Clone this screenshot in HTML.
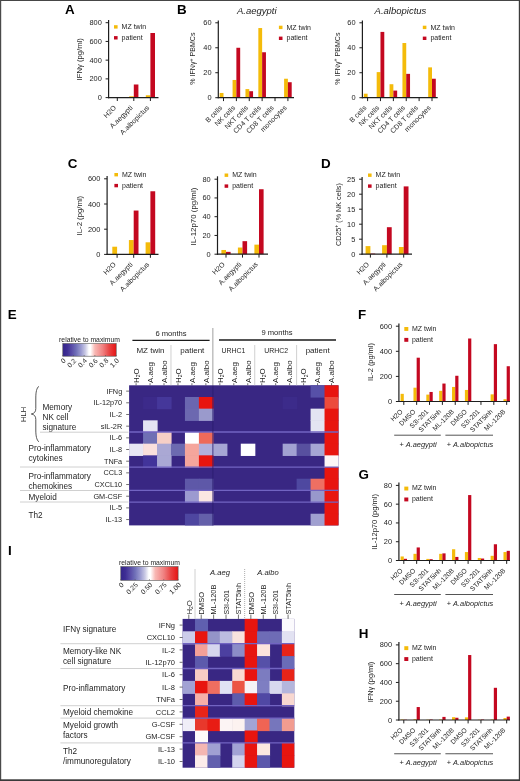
<!DOCTYPE html>
<html><head><meta charset="utf-8"><title>Figure</title>
<style>
html,body{margin:0;padding:0;background:#fff;}
body{width:520px;height:781px;overflow:hidden;}
svg{display:block;font-family:"Liberation Sans", sans-serif;filter:blur(0.35px);}
</style></head>
<body>
<svg width="520" height="781" viewBox="0 0 520 781" fill="#1e1e1e">
<defs><linearGradient id="cb" x1="0" x2="1" y1="0" y2="0"><stop offset="0" stop-color="#34248c"/><stop offset="0.08" stop-color="#3e2e94"/><stop offset="0.17" stop-color="#5a4ea8"/><stop offset="0.25" stop-color="#7070b8"/><stop offset="0.34" stop-color="#9a9ad0"/><stop offset="0.42" stop-color="#c8c8e4"/><stop offset="0.49" stop-color="#ffffff"/><stop offset="0.52" stop-color="#ffffff"/><stop offset="0.6" stop-color="#f8b8b4"/><stop offset="0.75" stop-color="#f08080"/><stop offset="0.87" stop-color="#e84444"/><stop offset="1.0" stop-color="#e81414"/></linearGradient></defs>
<rect x="0" y="0" width="520" height="781" fill="#fff"/>
<text x="65" y="13.9" font-size="13.4" fill="#000" font-weight="bold">A</text>
<rect x="112.7" y="97.04" width="4.6" height="0.56" fill="#f4bb0a"/>
<rect x="117.3" y="97.23" width="4.6" height="0.37" fill="#c40820"/>
<rect x="129.2" y="96.29" width="4.6" height="1.31" fill="#f4bb0a"/>
<rect x="133.8" y="84.49" width="4.6" height="13.11" fill="#c40820"/>
<rect x="145.8" y="95.26" width="4.6" height="2.34" fill="#f4bb0a"/>
<rect x="150.4" y="33" width="4.6" height="64.6" fill="#c40820"/>
<line x1="108.6" y1="20" x2="108.6" y2="98.2" stroke="#1e1e1e" stroke-width="1.2"/>
<line x1="108" y1="97.6" x2="158.5" y2="97.6" stroke="#1e1e1e" stroke-width="1.2"/>
<line x1="105.6" y1="97.6" x2="108.6" y2="97.6" stroke="#1e1e1e" stroke-width="1"/>
<text x="101.8" y="100.1" font-size="7.4" text-anchor="end">0</text>
<line x1="105.6" y1="78.88" x2="108.6" y2="78.88" stroke="#1e1e1e" stroke-width="1"/>
<text x="101.8" y="81.38" font-size="7.4" text-anchor="end">200</text>
<line x1="105.6" y1="60.15" x2="108.6" y2="60.15" stroke="#1e1e1e" stroke-width="1"/>
<text x="101.8" y="62.65" font-size="7.4" text-anchor="end">400</text>
<line x1="105.6" y1="41.43" x2="108.6" y2="41.43" stroke="#1e1e1e" stroke-width="1"/>
<text x="101.8" y="43.93" font-size="7.4" text-anchor="end">600</text>
<line x1="105.6" y1="22.7" x2="108.6" y2="22.7" stroke="#1e1e1e" stroke-width="1"/>
<text x="101.8" y="25.2" font-size="7.4" text-anchor="end">800</text>
<line x1="117.3" y1="97.6" x2="117.3" y2="101" stroke="#1e1e1e" stroke-width="1"/>
<line x1="133.8" y1="97.6" x2="133.8" y2="101" stroke="#1e1e1e" stroke-width="1"/>
<line x1="150.4" y1="97.6" x2="150.4" y2="101" stroke="#1e1e1e" stroke-width="1"/>
<text x="116.6" y="108.2" font-size="7" text-anchor="end" transform="rotate(-45 116.6 108.2)">H2O</text>
<text x="133.1" y="108.2" font-size="7" text-anchor="end" transform="rotate(-45 133.1 108.2)">A.aegypti</text>
<text x="149.7" y="108.2" font-size="7" text-anchor="end" transform="rotate(-45 149.7 108.2)">A.albopictus</text>
<rect x="114" y="25.2" width="3.6" height="3.4" fill="#f4bb0a"/>
<rect x="114" y="36.1" width="3.6" height="3.4" fill="#c40820"/>
<text x="121.6" y="29" font-size="7">MZ twin</text>
<text x="121.6" y="39.8" font-size="7">patient</text>
<text x="82.5" y="59.3" font-size="7.7" text-anchor="middle" transform="rotate(-90 82.5 59.3)">IFN&#947; (pg/ml)</text>
<text x="176.9" y="14" font-size="13.4" fill="#000" font-weight="bold">B</text>
<text x="256.8" y="14.3" font-size="9.5" text-anchor="middle" fill="#222" font-style="italic">A.aegypti</text>
<text x="400.5" y="14.3" font-size="9.5" text-anchor="middle" fill="#222" font-style="italic">A.albopictus</text>
<rect x="219.7" y="92.96" width="3.8" height="4.74" fill="#f4bb0a"/>
<rect x="232.58" y="79.97" width="3.8" height="17.73" fill="#f4bb0a"/>
<rect x="236.38" y="47.77" width="3.8" height="49.93" fill="#c40820"/>
<rect x="245.46" y="89.09" width="3.8" height="8.61" fill="#f4bb0a"/>
<rect x="249.26" y="91.21" width="3.8" height="6.49" fill="#c40820"/>
<rect x="258.34" y="28.04" width="3.8" height="69.66" fill="#f4bb0a"/>
<rect x="262.14" y="52.26" width="3.8" height="45.44" fill="#c40820"/>
<rect x="284.1" y="78.73" width="3.8" height="18.97" fill="#f4bb0a"/>
<rect x="287.9" y="82.22" width="3.8" height="15.48" fill="#c40820"/>
<line x1="218.3" y1="20.4" x2="218.3" y2="98.3" stroke="#1e1e1e" stroke-width="1.2"/>
<line x1="217.7" y1="97.7" x2="294" y2="97.7" stroke="#1e1e1e" stroke-width="1.2"/>
<line x1="215.3" y1="97.7" x2="218.3" y2="97.7" stroke="#1e1e1e" stroke-width="1"/>
<text x="211.5" y="100.2" font-size="7.4" text-anchor="end">0</text>
<line x1="215.3" y1="72.73" x2="218.3" y2="72.73" stroke="#1e1e1e" stroke-width="1"/>
<text x="211.5" y="75.23" font-size="7.4" text-anchor="end">20</text>
<line x1="215.3" y1="47.77" x2="218.3" y2="47.77" stroke="#1e1e1e" stroke-width="1"/>
<text x="211.5" y="50.27" font-size="7.4" text-anchor="end">40</text>
<line x1="215.3" y1="22.8" x2="218.3" y2="22.8" stroke="#1e1e1e" stroke-width="1"/>
<text x="211.5" y="25.3" font-size="7.4" text-anchor="end">60</text>
<line x1="223.5" y1="97.7" x2="223.5" y2="101.1" stroke="#1e1e1e" stroke-width="1"/>
<line x1="236.38" y1="97.7" x2="236.38" y2="101.1" stroke="#1e1e1e" stroke-width="1"/>
<line x1="249.26" y1="97.7" x2="249.26" y2="101.1" stroke="#1e1e1e" stroke-width="1"/>
<line x1="262.14" y1="97.7" x2="262.14" y2="101.1" stroke="#1e1e1e" stroke-width="1"/>
<line x1="275.02" y1="97.7" x2="275.02" y2="101.1" stroke="#1e1e1e" stroke-width="1"/>
<line x1="287.9" y1="97.7" x2="287.9" y2="101.1" stroke="#1e1e1e" stroke-width="1"/>
<text x="222.8" y="108.3" font-size="7" text-anchor="end" transform="rotate(-45 222.8 108.3)">B cells</text>
<text x="235.68" y="108.3" font-size="7" text-anchor="end" transform="rotate(-45 235.68 108.3)">NK cells</text>
<text x="248.56" y="108.3" font-size="7" text-anchor="end" transform="rotate(-45 248.56 108.3)">NKT cells</text>
<text x="261.44" y="108.3" font-size="7" text-anchor="end" transform="rotate(-45 261.44 108.3)">CD4 T cells</text>
<text x="274.32" y="108.3" font-size="7" text-anchor="end" transform="rotate(-45 274.32 108.3)">CD8 T cells</text>
<text x="287.2" y="108.3" font-size="7" text-anchor="end" transform="rotate(-45 287.2 108.3)">monocytes</text>
<rect x="278.9" y="25.7" width="3.6" height="3.4" fill="#f4bb0a"/>
<rect x="278.9" y="36.6" width="3.6" height="3.4" fill="#c40820"/>
<text x="286.5" y="29.5" font-size="7">MZ twin</text>
<text x="286.5" y="40.3" font-size="7">patient</text>
<text x="195.5" y="58.6" font-size="7.1" text-anchor="middle" transform="rotate(-90 195.5 58.6)">% IFN&#947;<tspan font-size="5" dy="-2.5">+</tspan><tspan dy="2.5"> PBMCs</tspan></text>
<rect x="363.8" y="93.71" width="3.8" height="3.99" fill="#f4bb0a"/>
<rect x="376.68" y="72.11" width="3.8" height="25.59" fill="#f4bb0a"/>
<rect x="380.48" y="31.91" width="3.8" height="65.79" fill="#c40820"/>
<rect x="389.56" y="84.22" width="3.8" height="13.48" fill="#f4bb0a"/>
<rect x="393.36" y="90.58" width="3.8" height="7.12" fill="#c40820"/>
<rect x="402.44" y="43.02" width="3.8" height="54.68" fill="#f4bb0a"/>
<rect x="406.24" y="73.86" width="3.8" height="23.84" fill="#c40820"/>
<rect x="428.2" y="67.37" width="3.8" height="30.33" fill="#f4bb0a"/>
<rect x="432" y="78.73" width="3.8" height="18.97" fill="#c40820"/>
<line x1="362.4" y1="20.4" x2="362.4" y2="98.3" stroke="#1e1e1e" stroke-width="1.2"/>
<line x1="361.8" y1="97.7" x2="437.7" y2="97.7" stroke="#1e1e1e" stroke-width="1.2"/>
<line x1="359.4" y1="97.7" x2="362.4" y2="97.7" stroke="#1e1e1e" stroke-width="1"/>
<text x="355.6" y="100.2" font-size="7.4" text-anchor="end">0</text>
<line x1="359.4" y1="72.73" x2="362.4" y2="72.73" stroke="#1e1e1e" stroke-width="1"/>
<text x="355.6" y="75.23" font-size="7.4" text-anchor="end">20</text>
<line x1="359.4" y1="47.77" x2="362.4" y2="47.77" stroke="#1e1e1e" stroke-width="1"/>
<text x="355.6" y="50.27" font-size="7.4" text-anchor="end">40</text>
<line x1="359.4" y1="22.8" x2="362.4" y2="22.8" stroke="#1e1e1e" stroke-width="1"/>
<text x="355.6" y="25.3" font-size="7.4" text-anchor="end">60</text>
<line x1="367.6" y1="97.7" x2="367.6" y2="101.1" stroke="#1e1e1e" stroke-width="1"/>
<line x1="380.48" y1="97.7" x2="380.48" y2="101.1" stroke="#1e1e1e" stroke-width="1"/>
<line x1="393.36" y1="97.7" x2="393.36" y2="101.1" stroke="#1e1e1e" stroke-width="1"/>
<line x1="406.24" y1="97.7" x2="406.24" y2="101.1" stroke="#1e1e1e" stroke-width="1"/>
<line x1="419.12" y1="97.7" x2="419.12" y2="101.1" stroke="#1e1e1e" stroke-width="1"/>
<line x1="432" y1="97.7" x2="432" y2="101.1" stroke="#1e1e1e" stroke-width="1"/>
<text x="366.9" y="108.3" font-size="7" text-anchor="end" transform="rotate(-45 366.9 108.3)">B cells</text>
<text x="379.78" y="108.3" font-size="7" text-anchor="end" transform="rotate(-45 379.78 108.3)">NK cells</text>
<text x="392.66" y="108.3" font-size="7" text-anchor="end" transform="rotate(-45 392.66 108.3)">NKT cells</text>
<text x="405.54" y="108.3" font-size="7" text-anchor="end" transform="rotate(-45 405.54 108.3)">CD4 T cells</text>
<text x="418.42" y="108.3" font-size="7" text-anchor="end" transform="rotate(-45 418.42 108.3)">CD8 T cells</text>
<text x="431.3" y="108.3" font-size="7" text-anchor="end" transform="rotate(-45 431.3 108.3)">monocytes</text>
<rect x="422.8" y="25.7" width="3.6" height="3.4" fill="#f4bb0a"/>
<rect x="422.8" y="36.6" width="3.6" height="3.4" fill="#c40820"/>
<text x="430.4" y="29.5" font-size="7">MZ twin</text>
<text x="430.4" y="40.3" font-size="7">patient</text>
<text x="339.6" y="58.6" font-size="7.1" text-anchor="middle" transform="rotate(-90 339.6 58.6)">% IFN&#947;<tspan font-size="5" dy="-2.5">+</tspan><tspan dy="2.5"> PBMCs</tspan></text>
<text x="67.7" y="168.2" font-size="13.4" fill="#000" font-weight="bold">C</text>
<rect x="112.3" y="246.71" width="4.8" height="7.69" fill="#f4bb0a"/>
<rect x="128.9" y="240.04" width="4.8" height="14.36" fill="#f4bb0a"/>
<rect x="133.7" y="210.55" width="4.8" height="43.85" fill="#c40820"/>
<rect x="145.6" y="242.3" width="4.8" height="12.1" fill="#f4bb0a"/>
<rect x="150.4" y="191.27" width="4.8" height="63.13" fill="#c40820"/>
<line x1="107.1" y1="176" x2="107.1" y2="255" stroke="#1e1e1e" stroke-width="1.2"/>
<line x1="106.5" y1="254.4" x2="158.5" y2="254.4" stroke="#1e1e1e" stroke-width="1.2"/>
<line x1="104.1" y1="254.4" x2="107.1" y2="254.4" stroke="#1e1e1e" stroke-width="1"/>
<text x="100.3" y="256.9" font-size="7.4" text-anchor="end">0</text>
<line x1="104.1" y1="229.2" x2="107.1" y2="229.2" stroke="#1e1e1e" stroke-width="1"/>
<text x="100.3" y="231.7" font-size="7.4" text-anchor="end">200</text>
<line x1="104.1" y1="204" x2="107.1" y2="204" stroke="#1e1e1e" stroke-width="1"/>
<text x="100.3" y="206.5" font-size="7.4" text-anchor="end">400</text>
<line x1="104.1" y1="178.8" x2="107.1" y2="178.8" stroke="#1e1e1e" stroke-width="1"/>
<text x="100.3" y="181.3" font-size="7.4" text-anchor="end">600</text>
<line x1="117.1" y1="254.4" x2="117.1" y2="257.8" stroke="#1e1e1e" stroke-width="1"/>
<line x1="133.7" y1="254.4" x2="133.7" y2="257.8" stroke="#1e1e1e" stroke-width="1"/>
<line x1="150.4" y1="254.4" x2="150.4" y2="257.8" stroke="#1e1e1e" stroke-width="1"/>
<text x="116.4" y="265" font-size="7" text-anchor="end" transform="rotate(-45 116.4 265)">H2O</text>
<text x="133" y="265" font-size="7" text-anchor="end" transform="rotate(-45 133 265)">A.aegypti</text>
<text x="149.7" y="265" font-size="7" text-anchor="end" transform="rotate(-45 149.7 265)">A.albopictus</text>
<rect x="114.4" y="173" width="3.6" height="3.4" fill="#f4bb0a"/>
<rect x="114.4" y="183.9" width="3.6" height="3.4" fill="#c40820"/>
<text x="122" y="176.8" font-size="7">MZ twin</text>
<text x="122" y="187.6" font-size="7">patient</text>
<text x="82.3" y="215.6" font-size="7.75" text-anchor="middle" transform="rotate(-90 82.3 215.6)">IL-2 (pg/ml)</text>
<rect x="221.4" y="249.98" width="4.6" height="4.22" fill="#f4bb0a"/>
<rect x="226" y="251.86" width="4.6" height="2.34" fill="#c40820"/>
<rect x="237.9" y="247.54" width="4.6" height="6.66" fill="#f4bb0a"/>
<rect x="242.5" y="241.17" width="4.6" height="13.03" fill="#c40820"/>
<rect x="254.4" y="244.64" width="4.6" height="9.56" fill="#f4bb0a"/>
<rect x="259" y="189.23" width="4.6" height="64.97" fill="#c40820"/>
<line x1="217.5" y1="176.3" x2="217.5" y2="254.8" stroke="#1e1e1e" stroke-width="1.2"/>
<line x1="216.9" y1="254.2" x2="268" y2="254.2" stroke="#1e1e1e" stroke-width="1.2"/>
<line x1="214.5" y1="254.2" x2="217.5" y2="254.2" stroke="#1e1e1e" stroke-width="1"/>
<text x="210.7" y="256.7" font-size="7.4" text-anchor="end">0</text>
<line x1="214.5" y1="235.45" x2="217.5" y2="235.45" stroke="#1e1e1e" stroke-width="1"/>
<text x="210.7" y="237.95" font-size="7.4" text-anchor="end">20</text>
<line x1="214.5" y1="216.7" x2="217.5" y2="216.7" stroke="#1e1e1e" stroke-width="1"/>
<text x="210.7" y="219.2" font-size="7.4" text-anchor="end">40</text>
<line x1="214.5" y1="197.95" x2="217.5" y2="197.95" stroke="#1e1e1e" stroke-width="1"/>
<text x="210.7" y="200.45" font-size="7.4" text-anchor="end">60</text>
<line x1="214.5" y1="179.2" x2="217.5" y2="179.2" stroke="#1e1e1e" stroke-width="1"/>
<text x="210.7" y="181.7" font-size="7.4" text-anchor="end">80</text>
<line x1="226" y1="254.2" x2="226" y2="257.6" stroke="#1e1e1e" stroke-width="1"/>
<line x1="242.5" y1="254.2" x2="242.5" y2="257.6" stroke="#1e1e1e" stroke-width="1"/>
<line x1="259" y1="254.2" x2="259" y2="257.6" stroke="#1e1e1e" stroke-width="1"/>
<text x="225.3" y="264.8" font-size="7" text-anchor="end" transform="rotate(-45 225.3 264.8)">H2O</text>
<text x="241.8" y="264.8" font-size="7" text-anchor="end" transform="rotate(-45 241.8 264.8)">A.aegypti</text>
<text x="258.3" y="264.8" font-size="7" text-anchor="end" transform="rotate(-45 258.3 264.8)">A.albopictus</text>
<rect x="224.6" y="173.5" width="3.6" height="3.4" fill="#f4bb0a"/>
<rect x="224.6" y="184.4" width="3.6" height="3.4" fill="#c40820"/>
<text x="232.2" y="177.3" font-size="7">MZ twin</text>
<text x="232.2" y="188.1" font-size="7">patient</text>
<text x="195.7" y="216.6" font-size="7.9" text-anchor="middle" transform="rotate(-90 195.7 216.6)">IL-12p70 (pg/ml)</text>
<text x="321" y="168.2" font-size="13.4" fill="#000" font-weight="bold">D</text>
<rect x="365.6" y="246.1" width="4.8" height="8.1" fill="#f4bb0a"/>
<rect x="370.4" y="253.6" width="4.8" height="0.6" fill="#c40820"/>
<rect x="382.1" y="245.2" width="4.8" height="9" fill="#f4bb0a"/>
<rect x="386.9" y="227.2" width="4.8" height="27" fill="#c40820"/>
<rect x="398.9" y="247" width="4.8" height="7.2" fill="#f4bb0a"/>
<rect x="403.7" y="186.4" width="4.8" height="67.8" fill="#c40820"/>
<line x1="362.1" y1="177" x2="362.1" y2="254.8" stroke="#1e1e1e" stroke-width="1.2"/>
<line x1="361.5" y1="254.2" x2="412" y2="254.2" stroke="#1e1e1e" stroke-width="1.2"/>
<line x1="359.1" y1="254.2" x2="362.1" y2="254.2" stroke="#1e1e1e" stroke-width="1"/>
<text x="355.3" y="256.7" font-size="7.4" text-anchor="end">0</text>
<line x1="359.1" y1="239.2" x2="362.1" y2="239.2" stroke="#1e1e1e" stroke-width="1"/>
<text x="355.3" y="241.7" font-size="7.4" text-anchor="end">5</text>
<line x1="359.1" y1="224.2" x2="362.1" y2="224.2" stroke="#1e1e1e" stroke-width="1"/>
<text x="355.3" y="226.7" font-size="7.4" text-anchor="end">10</text>
<line x1="359.1" y1="209.2" x2="362.1" y2="209.2" stroke="#1e1e1e" stroke-width="1"/>
<text x="355.3" y="211.7" font-size="7.4" text-anchor="end">15</text>
<line x1="359.1" y1="194.2" x2="362.1" y2="194.2" stroke="#1e1e1e" stroke-width="1"/>
<text x="355.3" y="196.7" font-size="7.4" text-anchor="end">20</text>
<line x1="359.1" y1="179.2" x2="362.1" y2="179.2" stroke="#1e1e1e" stroke-width="1"/>
<text x="355.3" y="181.7" font-size="7.4" text-anchor="end">25</text>
<line x1="370.4" y1="254.2" x2="370.4" y2="257.6" stroke="#1e1e1e" stroke-width="1"/>
<line x1="386.9" y1="254.2" x2="386.9" y2="257.6" stroke="#1e1e1e" stroke-width="1"/>
<line x1="403.7" y1="254.2" x2="403.7" y2="257.6" stroke="#1e1e1e" stroke-width="1"/>
<text x="369.7" y="264.8" font-size="7" text-anchor="end" transform="rotate(-45 369.7 264.8)">H2O</text>
<text x="386.2" y="264.8" font-size="7" text-anchor="end" transform="rotate(-45 386.2 264.8)">A.aegypti</text>
<text x="403" y="264.8" font-size="7" text-anchor="end" transform="rotate(-45 403 264.8)">A.albopictus</text>
<rect x="368" y="173.5" width="3.6" height="3.4" fill="#f4bb0a"/>
<rect x="368" y="184.4" width="3.6" height="3.4" fill="#c40820"/>
<text x="375.6" y="177.3" font-size="7">MZ twin</text>
<text x="375.6" y="188.1" font-size="7">patient</text>
<text x="340.7" y="214.6" font-size="7.2" text-anchor="middle" transform="rotate(-90 340.7 214.6)">CD25<tspan font-size="5" dy="-2.5">+</tspan><tspan dy="2.5"> (% NK cells)</tspan></text>
<text x="357.9" y="319.3" font-size="13.4" fill="#000" font-weight="bold">F</text>
<rect x="400.6" y="393.84" width="3.2" height="7.66" fill="#f4bb0a"/>
<rect x="413.46" y="387.69" width="3.2" height="13.81" fill="#f4bb0a"/>
<rect x="416.66" y="357.7" width="3.2" height="43.8" fill="#c40820"/>
<rect x="426.32" y="394.6" width="3.2" height="6.9" fill="#f4bb0a"/>
<rect x="429.52" y="391.96" width="3.2" height="9.54" fill="#c40820"/>
<rect x="439.18" y="390.83" width="3.2" height="10.67" fill="#f4bb0a"/>
<rect x="442.38" y="383.55" width="3.2" height="17.95" fill="#c40820"/>
<rect x="452.04" y="386.94" width="3.2" height="14.56" fill="#f4bb0a"/>
<rect x="455.24" y="375.77" width="3.2" height="25.73" fill="#c40820"/>
<rect x="464.9" y="389.95" width="3.2" height="11.55" fill="#f4bb0a"/>
<rect x="468.1" y="338.5" width="3.2" height="63" fill="#c40820"/>
<rect x="477.76" y="401.12" width="3.2" height="0.38" fill="#f4bb0a"/>
<rect x="480.96" y="401.12" width="3.2" height="0.38" fill="#c40820"/>
<rect x="490.62" y="394.35" width="3.2" height="7.15" fill="#f4bb0a"/>
<rect x="493.82" y="344.15" width="3.2" height="57.35" fill="#c40820"/>
<rect x="503.48" y="399.24" width="3.2" height="2.26" fill="#f4bb0a"/>
<rect x="506.68" y="366.23" width="3.2" height="35.27" fill="#c40820"/>
<line x1="398.9" y1="323.5" x2="398.9" y2="402.1" stroke="#1e1e1e" stroke-width="1.2"/>
<line x1="398.3" y1="401.5" x2="510" y2="401.5" stroke="#1e1e1e" stroke-width="1.2"/>
<line x1="395.9" y1="401.5" x2="398.9" y2="401.5" stroke="#1e1e1e" stroke-width="1"/>
<text x="392.1" y="404" font-size="7.4" text-anchor="end">0</text>
<line x1="395.9" y1="376.4" x2="398.9" y2="376.4" stroke="#1e1e1e" stroke-width="1"/>
<text x="392.1" y="378.9" font-size="7.4" text-anchor="end">200</text>
<line x1="395.9" y1="351.3" x2="398.9" y2="351.3" stroke="#1e1e1e" stroke-width="1"/>
<text x="392.1" y="353.8" font-size="7.4" text-anchor="end">400</text>
<line x1="395.9" y1="326.2" x2="398.9" y2="326.2" stroke="#1e1e1e" stroke-width="1"/>
<text x="392.1" y="328.7" font-size="7.4" text-anchor="end">600</text>
<line x1="403.8" y1="401.5" x2="403.8" y2="404.9" stroke="#1e1e1e" stroke-width="1"/>
<line x1="416.66" y1="401.5" x2="416.66" y2="404.9" stroke="#1e1e1e" stroke-width="1"/>
<line x1="429.52" y1="401.5" x2="429.52" y2="404.9" stroke="#1e1e1e" stroke-width="1"/>
<line x1="442.38" y1="401.5" x2="442.38" y2="404.9" stroke="#1e1e1e" stroke-width="1"/>
<line x1="455.24" y1="401.5" x2="455.24" y2="404.9" stroke="#1e1e1e" stroke-width="1"/>
<line x1="468.1" y1="401.5" x2="468.1" y2="404.9" stroke="#1e1e1e" stroke-width="1"/>
<line x1="480.96" y1="401.5" x2="480.96" y2="404.9" stroke="#1e1e1e" stroke-width="1"/>
<line x1="493.82" y1="401.5" x2="493.82" y2="404.9" stroke="#1e1e1e" stroke-width="1"/>
<line x1="506.68" y1="401.5" x2="506.68" y2="404.9" stroke="#1e1e1e" stroke-width="1"/>
<text x="403.1" y="412.1" font-size="6.7" text-anchor="end" transform="rotate(-45 403.1 412.1)">H2O</text>
<text x="415.96" y="412.1" font-size="6.7" text-anchor="end" transform="rotate(-45 415.96 412.1)">DMSO</text>
<text x="428.82" y="412.1" font-size="6.7" text-anchor="end" transform="rotate(-45 428.82 412.1)">S3I-201</text>
<text x="441.68" y="412.1" font-size="6.7" text-anchor="end" transform="rotate(-45 441.68 412.1)">STAT5inh</text>
<text x="454.54" y="412.1" font-size="6.7" text-anchor="end" transform="rotate(-45 454.54 412.1)">ML-120B</text>
<text x="467.4" y="412.1" font-size="6.7" text-anchor="end" transform="rotate(-45 467.4 412.1)">DMSO</text>
<text x="480.26" y="412.1" font-size="6.7" text-anchor="end" transform="rotate(-45 480.26 412.1)">S3I-201</text>
<text x="493.12" y="412.1" font-size="6.7" text-anchor="end" transform="rotate(-45 493.12 412.1)">STAT5inh</text>
<text x="505.98" y="412.1" font-size="6.7" text-anchor="end" transform="rotate(-45 505.98 412.1)">ML-120B</text>
<rect x="404.3" y="327" width="4" height="3.9" fill="#f4bb0a"/>
<rect x="404.3" y="337.9" width="4" height="3.9" fill="#c40820"/>
<text x="411.9" y="330.8" font-size="7">MZ twin</text>
<text x="411.9" y="341.6" font-size="7">patient</text>
<text x="373" y="362" font-size="7.4" text-anchor="middle" transform="rotate(-90 373 362)">IL-2 (pg/ml)</text>
<line x1="394.2" y1="435.2" x2="440.8" y2="435.2" stroke="#555" stroke-width="1"/>
<line x1="445.4" y1="435.2" x2="493" y2="435.2" stroke="#555" stroke-width="1"/>
<text x="418" y="447.3" font-size="7.4" text-anchor="middle">+ <tspan font-style="italic">A.aegypti</tspan></text>
<text x="470" y="447.3" font-size="7.4" text-anchor="middle">+ <tspan font-style="italic">A.albopictus</tspan></text>
<text x="358.5" y="478.5" font-size="13.4" fill="#000" font-weight="bold">G</text>
<rect x="400.6" y="556.46" width="3.2" height="4.04" fill="#f4bb0a"/>
<rect x="403.8" y="558.81" width="3.2" height="1.69" fill="#c40820"/>
<rect x="413.46" y="553.83" width="3.2" height="6.67" fill="#f4bb0a"/>
<rect x="416.66" y="547.45" width="3.2" height="13.05" fill="#c40820"/>
<rect x="426.32" y="558.9" width="3.2" height="1.6" fill="#f4bb0a"/>
<rect x="429.52" y="559.19" width="3.2" height="1.31" fill="#c40820"/>
<rect x="439.18" y="553.83" width="3.2" height="6.67" fill="#f4bb0a"/>
<rect x="442.38" y="553.37" width="3.2" height="7.13" fill="#c40820"/>
<rect x="452.04" y="549.24" width="3.2" height="11.27" fill="#f4bb0a"/>
<rect x="455.24" y="556.93" width="3.2" height="3.57" fill="#c40820"/>
<rect x="464.9" y="552.05" width="3.2" height="8.45" fill="#f4bb0a"/>
<rect x="468.1" y="495.07" width="3.2" height="65.43" fill="#c40820"/>
<rect x="477.76" y="557.97" width="3.2" height="2.53" fill="#f4bb0a"/>
<rect x="480.96" y="558.53" width="3.2" height="1.97" fill="#c40820"/>
<rect x="490.62" y="555.81" width="3.2" height="4.69" fill="#f4bb0a"/>
<rect x="493.82" y="544.26" width="3.2" height="16.24" fill="#c40820"/>
<rect x="503.48" y="552.05" width="3.2" height="8.45" fill="#f4bb0a"/>
<rect x="506.68" y="550.83" width="3.2" height="9.67" fill="#c40820"/>
<line x1="398.9" y1="482.6" x2="398.9" y2="561.1" stroke="#1e1e1e" stroke-width="1.2"/>
<line x1="398.3" y1="560.5" x2="510" y2="560.5" stroke="#1e1e1e" stroke-width="1.2"/>
<line x1="395.9" y1="560.5" x2="398.9" y2="560.5" stroke="#1e1e1e" stroke-width="1"/>
<text x="392.1" y="563" font-size="7.4" text-anchor="end">0</text>
<line x1="395.9" y1="541.73" x2="398.9" y2="541.73" stroke="#1e1e1e" stroke-width="1"/>
<text x="392.1" y="544.23" font-size="7.4" text-anchor="end">20</text>
<line x1="395.9" y1="522.95" x2="398.9" y2="522.95" stroke="#1e1e1e" stroke-width="1"/>
<text x="392.1" y="525.45" font-size="7.4" text-anchor="end">40</text>
<line x1="395.9" y1="504.17" x2="398.9" y2="504.17" stroke="#1e1e1e" stroke-width="1"/>
<text x="392.1" y="506.67" font-size="7.4" text-anchor="end">60</text>
<line x1="395.9" y1="485.4" x2="398.9" y2="485.4" stroke="#1e1e1e" stroke-width="1"/>
<text x="392.1" y="487.9" font-size="7.4" text-anchor="end">80</text>
<line x1="403.8" y1="560.5" x2="403.8" y2="563.9" stroke="#1e1e1e" stroke-width="1"/>
<line x1="416.66" y1="560.5" x2="416.66" y2="563.9" stroke="#1e1e1e" stroke-width="1"/>
<line x1="429.52" y1="560.5" x2="429.52" y2="563.9" stroke="#1e1e1e" stroke-width="1"/>
<line x1="442.38" y1="560.5" x2="442.38" y2="563.9" stroke="#1e1e1e" stroke-width="1"/>
<line x1="455.24" y1="560.5" x2="455.24" y2="563.9" stroke="#1e1e1e" stroke-width="1"/>
<line x1="468.1" y1="560.5" x2="468.1" y2="563.9" stroke="#1e1e1e" stroke-width="1"/>
<line x1="480.96" y1="560.5" x2="480.96" y2="563.9" stroke="#1e1e1e" stroke-width="1"/>
<line x1="493.82" y1="560.5" x2="493.82" y2="563.9" stroke="#1e1e1e" stroke-width="1"/>
<line x1="506.68" y1="560.5" x2="506.68" y2="563.9" stroke="#1e1e1e" stroke-width="1"/>
<text x="403.1" y="571.1" font-size="6.7" text-anchor="end" transform="rotate(-45 403.1 571.1)">H2O</text>
<text x="415.96" y="571.1" font-size="6.7" text-anchor="end" transform="rotate(-45 415.96 571.1)">DMSO</text>
<text x="428.82" y="571.1" font-size="6.7" text-anchor="end" transform="rotate(-45 428.82 571.1)">S3I-201</text>
<text x="441.68" y="571.1" font-size="6.7" text-anchor="end" transform="rotate(-45 441.68 571.1)">STAT5inh</text>
<text x="454.54" y="571.1" font-size="6.7" text-anchor="end" transform="rotate(-45 454.54 571.1)">ML-120B</text>
<text x="467.4" y="571.1" font-size="6.7" text-anchor="end" transform="rotate(-45 467.4 571.1)">DMSO</text>
<text x="480.26" y="571.1" font-size="6.7" text-anchor="end" transform="rotate(-45 480.26 571.1)">S3I-201</text>
<text x="493.12" y="571.1" font-size="6.7" text-anchor="end" transform="rotate(-45 493.12 571.1)">STAT5inh</text>
<text x="505.98" y="571.1" font-size="6.7" text-anchor="end" transform="rotate(-45 505.98 571.1)">ML-120B</text>
<rect x="404.3" y="486.6" width="4" height="3.9" fill="#f4bb0a"/>
<rect x="404.3" y="497.5" width="4" height="3.9" fill="#c40820"/>
<text x="411.9" y="490.4" font-size="7">MZ twin</text>
<text x="411.9" y="501.2" font-size="7">patient</text>
<text x="376.7" y="521.8" font-size="7.6" text-anchor="middle" transform="rotate(-90 376.7 521.8)">IL-12p70 (pg/ml)</text>
<line x1="394.2" y1="594.5" x2="440.8" y2="594.5" stroke="#555" stroke-width="1"/>
<line x1="445.4" y1="594.5" x2="493" y2="594.5" stroke="#555" stroke-width="1"/>
<text x="418" y="605.6" font-size="7.4" text-anchor="middle">+ <tspan font-style="italic">A.aegypti</tspan></text>
<text x="470" y="605.6" font-size="7.4" text-anchor="middle">+ <tspan font-style="italic">A.albopictus</tspan></text>
<text x="358.8" y="637.9" font-size="13.4" fill="#000" font-weight="bold">H</text>
<rect x="400.6" y="719.53" width="3.2" height="0.47" fill="#f4bb0a"/>
<rect x="403.8" y="719.72" width="3.2" height="0.28" fill="#c40820"/>
<rect x="413.46" y="719.25" width="3.2" height="0.75" fill="#f4bb0a"/>
<rect x="416.66" y="707.05" width="3.2" height="12.95" fill="#c40820"/>
<rect x="426.32" y="719.72" width="3.2" height="0.28" fill="#f4bb0a"/>
<rect x="429.52" y="719.53" width="3.2" height="0.47" fill="#c40820"/>
<rect x="439.18" y="719.53" width="3.2" height="0.47" fill="#f4bb0a"/>
<rect x="442.38" y="716.9" width="3.2" height="3.1" fill="#c40820"/>
<rect x="452.04" y="717.18" width="3.2" height="2.82" fill="#f4bb0a"/>
<rect x="455.24" y="717.75" width="3.2" height="2.25" fill="#c40820"/>
<rect x="464.9" y="717.37" width="3.2" height="2.63" fill="#f4bb0a"/>
<rect x="468.1" y="655.04" width="3.2" height="64.96" fill="#c40820"/>
<rect x="477.76" y="719.72" width="3.2" height="0.28" fill="#f4bb0a"/>
<rect x="480.96" y="719.53" width="3.2" height="0.47" fill="#c40820"/>
<rect x="490.62" y="719.53" width="3.2" height="0.47" fill="#f4bb0a"/>
<rect x="493.82" y="687.8" width="3.2" height="32.2" fill="#c40820"/>
<rect x="503.48" y="718.03" width="3.2" height="1.97" fill="#f4bb0a"/>
<rect x="506.68" y="716.62" width="3.2" height="3.38" fill="#c40820"/>
<line x1="398.9" y1="642" x2="398.9" y2="720.6" stroke="#1e1e1e" stroke-width="1.2"/>
<line x1="398.3" y1="720" x2="510" y2="720" stroke="#1e1e1e" stroke-width="1.2"/>
<line x1="395.9" y1="720" x2="398.9" y2="720" stroke="#1e1e1e" stroke-width="1"/>
<text x="392.1" y="722.5" font-size="7.4" text-anchor="end">0</text>
<line x1="395.9" y1="701.23" x2="398.9" y2="701.23" stroke="#1e1e1e" stroke-width="1"/>
<text x="392.1" y="703.73" font-size="7.4" text-anchor="end">200</text>
<line x1="395.9" y1="682.45" x2="398.9" y2="682.45" stroke="#1e1e1e" stroke-width="1"/>
<text x="392.1" y="684.95" font-size="7.4" text-anchor="end">400</text>
<line x1="395.9" y1="663.67" x2="398.9" y2="663.67" stroke="#1e1e1e" stroke-width="1"/>
<text x="392.1" y="666.17" font-size="7.4" text-anchor="end">600</text>
<line x1="395.9" y1="644.9" x2="398.9" y2="644.9" stroke="#1e1e1e" stroke-width="1"/>
<text x="392.1" y="647.4" font-size="7.4" text-anchor="end">800</text>
<line x1="403.8" y1="720" x2="403.8" y2="723.4" stroke="#1e1e1e" stroke-width="1"/>
<line x1="416.66" y1="720" x2="416.66" y2="723.4" stroke="#1e1e1e" stroke-width="1"/>
<line x1="429.52" y1="720" x2="429.52" y2="723.4" stroke="#1e1e1e" stroke-width="1"/>
<line x1="442.38" y1="720" x2="442.38" y2="723.4" stroke="#1e1e1e" stroke-width="1"/>
<line x1="455.24" y1="720" x2="455.24" y2="723.4" stroke="#1e1e1e" stroke-width="1"/>
<line x1="468.1" y1="720" x2="468.1" y2="723.4" stroke="#1e1e1e" stroke-width="1"/>
<line x1="480.96" y1="720" x2="480.96" y2="723.4" stroke="#1e1e1e" stroke-width="1"/>
<line x1="493.82" y1="720" x2="493.82" y2="723.4" stroke="#1e1e1e" stroke-width="1"/>
<line x1="506.68" y1="720" x2="506.68" y2="723.4" stroke="#1e1e1e" stroke-width="1"/>
<text x="403.1" y="730.6" font-size="6.7" text-anchor="end" transform="rotate(-45 403.1 730.6)">H2O</text>
<text x="415.96" y="730.6" font-size="6.7" text-anchor="end" transform="rotate(-45 415.96 730.6)">DMSO</text>
<text x="428.82" y="730.6" font-size="6.7" text-anchor="end" transform="rotate(-45 428.82 730.6)">S3I-201</text>
<text x="441.68" y="730.6" font-size="6.7" text-anchor="end" transform="rotate(-45 441.68 730.6)">STAT5inh</text>
<text x="454.54" y="730.6" font-size="6.7" text-anchor="end" transform="rotate(-45 454.54 730.6)">ML-120B</text>
<text x="467.4" y="730.6" font-size="6.7" text-anchor="end" transform="rotate(-45 467.4 730.6)">DMSO</text>
<text x="480.26" y="730.6" font-size="6.7" text-anchor="end" transform="rotate(-45 480.26 730.6)">S3I-201</text>
<text x="493.12" y="730.6" font-size="6.7" text-anchor="end" transform="rotate(-45 493.12 730.6)">STAT5inh</text>
<text x="505.98" y="730.6" font-size="6.7" text-anchor="end" transform="rotate(-45 505.98 730.6)">ML-120B</text>
<rect x="404.3" y="646.2" width="4" height="3.9" fill="#f4bb0a"/>
<rect x="404.3" y="657.1" width="4" height="3.9" fill="#c40820"/>
<text x="411.9" y="650" font-size="7">MZ twin</text>
<text x="411.9" y="660.8" font-size="7">patient</text>
<text x="373" y="682" font-size="7.4" text-anchor="middle" transform="rotate(-90 373 682)">IFN&#947; (pg/ml)</text>
<line x1="394.2" y1="753.75" x2="440.8" y2="753.75" stroke="#555" stroke-width="1"/>
<line x1="445.4" y1="753.75" x2="493" y2="753.75" stroke="#555" stroke-width="1"/>
<text x="418" y="765.1" font-size="7.4" text-anchor="middle">+ <tspan font-style="italic">A.aegypti</tspan></text>
<text x="470" y="765.1" font-size="7.4" text-anchor="middle">+ <tspan font-style="italic">A.albopictus</tspan></text>
<text x="7.8" y="319.2" font-size="13.4" fill="#000" font-weight="bold">E</text>
<rect x="62.8" y="343.5" width="53.4" height="12.7" fill="url(#cb)" stroke="#555" stroke-width="0.6"/>
<line x1="62.8" y1="356.2" x2="62.8" y2="355" stroke="#555" stroke-width="0.6"/>
<text x="66.1" y="361.2" font-size="6.8" text-anchor="end" transform="rotate(-45 66.1 361.2)">0</text>
<line x1="73.48" y1="356.2" x2="73.48" y2="355" stroke="#555" stroke-width="0.6"/>
<text x="76.78" y="361.2" font-size="6.8" text-anchor="end" transform="rotate(-45 76.78 361.2)">0.2</text>
<line x1="84.16" y1="356.2" x2="84.16" y2="355" stroke="#555" stroke-width="0.6"/>
<text x="87.46" y="361.2" font-size="6.8" text-anchor="end" transform="rotate(-45 87.46 361.2)">0.4</text>
<line x1="94.84" y1="356.2" x2="94.84" y2="355" stroke="#555" stroke-width="0.6"/>
<text x="98.14" y="361.2" font-size="6.8" text-anchor="end" transform="rotate(-45 98.14 361.2)">0.6</text>
<line x1="105.52" y1="356.2" x2="105.52" y2="355" stroke="#555" stroke-width="0.6"/>
<text x="108.82" y="361.2" font-size="6.8" text-anchor="end" transform="rotate(-45 108.82 361.2)">0.8</text>
<line x1="116.2" y1="356.2" x2="116.2" y2="355" stroke="#555" stroke-width="0.6"/>
<text x="119.5" y="361.2" font-size="6.8" text-anchor="end" transform="rotate(-45 119.5 361.2)">1.0</text>
<text x="89.5" y="341.7" font-size="6.8" text-anchor="middle">relative to maximum</text>
<rect x="129.1" y="385.3" width="209.4" height="140.1" fill="#392783"/>
<rect x="310.58" y="385.3" width="14.56" height="12.28" fill="#5750a8"/>
<rect x="324.54" y="385.3" width="13.96" height="12.28" fill="#e8150f"/>
<rect x="143.06" y="396.98" width="14.56" height="12.28" fill="#3c2a8a"/>
<rect x="157.02" y="396.98" width="14.56" height="12.28" fill="#45379a"/>
<rect x="184.94" y="396.98" width="14.56" height="12.28" fill="#6a66b0"/>
<rect x="198.9" y="396.98" width="14.56" height="12.28" fill="#e8150f"/>
<rect x="282.66" y="396.98" width="14.56" height="12.28" fill="#3c2b8a"/>
<rect x="324.54" y="396.98" width="13.96" height="12.28" fill="#ec4b3c"/>
<rect x="184.94" y="408.65" width="14.56" height="12.28" fill="#6c68b0"/>
<rect x="198.9" y="408.65" width="14.56" height="12.28" fill="#9a9acc"/>
<rect x="310.58" y="408.65" width="14.56" height="12.28" fill="#e4e4f2"/>
<rect x="324.54" y="408.65" width="13.96" height="12.28" fill="#e8150f"/>
<rect x="143.06" y="420.33" width="14.56" height="12.28" fill="#e4e3f3"/>
<rect x="310.58" y="420.33" width="14.56" height="12.28" fill="#e4e4f2"/>
<rect x="324.54" y="420.33" width="13.96" height="12.28" fill="#e8150f"/>
<rect x="143.06" y="432" width="14.56" height="12.28" fill="#6f70b4"/>
<rect x="157.02" y="432" width="14.56" height="12.28" fill="#f6cfc6"/>
<rect x="184.94" y="432" width="14.56" height="12.28" fill="#ffffff"/>
<rect x="198.9" y="432" width="14.56" height="12.28" fill="#ee6a5a"/>
<rect x="324.54" y="432" width="13.96" height="12.28" fill="#e8150f"/>
<rect x="129.1" y="443.68" width="14.56" height="12.28" fill="#e8e6f4"/>
<rect x="143.06" y="443.68" width="14.56" height="12.28" fill="#fae0dc"/>
<rect x="157.02" y="443.68" width="14.56" height="12.28" fill="#aaa8d4"/>
<rect x="170.98" y="443.68" width="14.56" height="12.28" fill="#6c6ab0"/>
<rect x="184.94" y="443.68" width="14.56" height="12.28" fill="#f5a59c"/>
<rect x="198.9" y="443.68" width="14.56" height="12.28" fill="#b2b0dc"/>
<rect x="212.86" y="443.68" width="14.56" height="12.28" fill="#a6a6d4"/>
<rect x="240.78" y="443.68" width="14.56" height="12.28" fill="#ffffff"/>
<rect x="282.66" y="443.68" width="14.56" height="12.28" fill="#a2a2d2"/>
<rect x="296.62" y="443.68" width="14.56" height="12.28" fill="#58509f"/>
<rect x="310.58" y="443.68" width="14.56" height="12.28" fill="#a6a6d4"/>
<rect x="324.54" y="443.68" width="13.96" height="12.28" fill="#e8150f"/>
<rect x="143.06" y="455.35" width="14.56" height="12.28" fill="#42349a"/>
<rect x="157.02" y="455.35" width="14.56" height="12.28" fill="#a9a8d4"/>
<rect x="184.94" y="455.35" width="14.56" height="12.28" fill="#f5a59c"/>
<rect x="198.9" y="455.35" width="14.56" height="12.28" fill="#e8150f"/>
<rect x="324.54" y="455.35" width="13.96" height="12.28" fill="#fdf6f6"/>
<rect x="324.54" y="467.03" width="13.96" height="12.28" fill="#e8150f"/>
<rect x="184.94" y="478.7" width="14.56" height="12.28" fill="#5e58a8"/>
<rect x="198.9" y="478.7" width="14.56" height="12.28" fill="#5e58a8"/>
<rect x="296.62" y="478.7" width="14.56" height="12.28" fill="#4e48a0"/>
<rect x="310.58" y="478.7" width="14.56" height="12.28" fill="#ef6f62"/>
<rect x="324.54" y="478.7" width="13.96" height="12.28" fill="#e8150f"/>
<rect x="184.94" y="490.38" width="14.56" height="12.28" fill="#9c9ad0"/>
<rect x="198.9" y="490.38" width="14.56" height="12.28" fill="#fbe6e2"/>
<rect x="310.58" y="490.38" width="14.56" height="12.28" fill="#9898cc"/>
<rect x="324.54" y="490.38" width="13.96" height="12.28" fill="#e8150f"/>
<rect x="324.54" y="502.05" width="13.96" height="12.28" fill="#e8150f"/>
<rect x="184.94" y="513.73" width="14.56" height="11.68" fill="#4e46a0"/>
<rect x="198.9" y="513.73" width="14.56" height="11.68" fill="#6460aa"/>
<rect x="310.58" y="513.73" width="14.56" height="11.68" fill="#a0a0d0"/>
<rect x="324.54" y="513.73" width="13.96" height="11.68" fill="#e8150f"/>
<line x1="129.1" y1="432" x2="338.5" y2="432" stroke="#7264c2" stroke-width="1.3"/>
<line x1="129.1" y1="467.03" x2="338.5" y2="467.03" stroke="#7264c2" stroke-width="1.3"/>
<line x1="129.1" y1="490.38" x2="338.5" y2="490.38" stroke="#7264c2" stroke-width="1.3"/>
<line x1="129.1" y1="502.05" x2="338.5" y2="502.05" stroke="#7264c2" stroke-width="1.3"/>
<line x1="212.86" y1="385.3" x2="212.86" y2="525.4" stroke="#2a1c6e" stroke-width="0.8"/>
<text x="122.2" y="393.64" font-size="7.3" text-anchor="end">IFNg</text>
<line x1="126.2" y1="391.14" x2="129.1" y2="391.14" stroke="#333" stroke-width="0.7"/>
<text x="122.2" y="405.31" font-size="7.3" text-anchor="end">IL-12p70</text>
<line x1="126.2" y1="402.81" x2="129.1" y2="402.81" stroke="#333" stroke-width="0.7"/>
<text x="122.2" y="416.99" font-size="7.3" text-anchor="end">IL-2</text>
<line x1="126.2" y1="414.49" x2="129.1" y2="414.49" stroke="#333" stroke-width="0.7"/>
<text x="122.2" y="428.66" font-size="7.3" text-anchor="end">sIL-2R</text>
<line x1="126.2" y1="426.16" x2="129.1" y2="426.16" stroke="#333" stroke-width="0.7"/>
<text x="122.2" y="440.34" font-size="7.3" text-anchor="end">IL-6</text>
<line x1="126.2" y1="437.84" x2="129.1" y2="437.84" stroke="#333" stroke-width="0.7"/>
<text x="122.2" y="452.01" font-size="7.3" text-anchor="end">IL-8</text>
<line x1="126.2" y1="449.51" x2="129.1" y2="449.51" stroke="#333" stroke-width="0.7"/>
<text x="122.2" y="463.69" font-size="7.3" text-anchor="end">TNFa</text>
<line x1="126.2" y1="461.19" x2="129.1" y2="461.19" stroke="#333" stroke-width="0.7"/>
<text x="122.2" y="475.36" font-size="7.3" text-anchor="end">CCL3</text>
<line x1="126.2" y1="472.86" x2="129.1" y2="472.86" stroke="#333" stroke-width="0.7"/>
<text x="122.2" y="487.04" font-size="7.3" text-anchor="end">CXCL10</text>
<line x1="126.2" y1="484.54" x2="129.1" y2="484.54" stroke="#333" stroke-width="0.7"/>
<text x="122.2" y="498.71" font-size="7.3" text-anchor="end">GM-CSF</text>
<line x1="126.2" y1="496.21" x2="129.1" y2="496.21" stroke="#333" stroke-width="0.7"/>
<text x="122.2" y="510.39" font-size="7.3" text-anchor="end">IL-5</text>
<line x1="126.2" y1="507.89" x2="129.1" y2="507.89" stroke="#333" stroke-width="0.7"/>
<text x="122.2" y="522.06" font-size="7.3" text-anchor="end">IL-13</text>
<line x1="126.2" y1="519.56" x2="129.1" y2="519.56" stroke="#333" stroke-width="0.7"/>
<text x="138.88" y="383" font-size="8" transform="rotate(-90 138.88 383)">H<tspan font-size="5" dy="1.5">2</tspan><tspan dy="-1.5">O</tspan></text>
<line x1="136.08" y1="383.2" x2="136.08" y2="385.3" stroke="#333" stroke-width="0.7"/>
<text x="152.84" y="383" font-size="8" transform="rotate(-90 152.84 383)">A.aeg</text>
<line x1="150.04" y1="383.2" x2="150.04" y2="385.3" stroke="#333" stroke-width="0.7"/>
<text x="166.8" y="383" font-size="8" transform="rotate(-90 166.8 383)">A.albo</text>
<line x1="164" y1="383.2" x2="164" y2="385.3" stroke="#333" stroke-width="0.7"/>
<text x="180.76" y="383" font-size="8" transform="rotate(-90 180.76 383)">H<tspan font-size="5" dy="1.5">2</tspan><tspan dy="-1.5">O</tspan></text>
<line x1="177.96" y1="383.2" x2="177.96" y2="385.3" stroke="#333" stroke-width="0.7"/>
<text x="194.72" y="383" font-size="8" transform="rotate(-90 194.72 383)">A.aeg</text>
<line x1="191.92" y1="383.2" x2="191.92" y2="385.3" stroke="#333" stroke-width="0.7"/>
<text x="208.68" y="383" font-size="8" transform="rotate(-90 208.68 383)">A.albo</text>
<line x1="205.88" y1="383.2" x2="205.88" y2="385.3" stroke="#333" stroke-width="0.7"/>
<text x="222.64" y="383" font-size="8" transform="rotate(-90 222.64 383)">H<tspan font-size="5" dy="1.5">2</tspan><tspan dy="-1.5">O</tspan></text>
<line x1="219.84" y1="383.2" x2="219.84" y2="385.3" stroke="#333" stroke-width="0.7"/>
<text x="236.6" y="383" font-size="8" transform="rotate(-90 236.6 383)">A.aeg</text>
<line x1="233.8" y1="383.2" x2="233.8" y2="385.3" stroke="#333" stroke-width="0.7"/>
<text x="250.56" y="383" font-size="8" transform="rotate(-90 250.56 383)">A.albo</text>
<line x1="247.76" y1="383.2" x2="247.76" y2="385.3" stroke="#333" stroke-width="0.7"/>
<text x="264.52" y="383" font-size="8" transform="rotate(-90 264.52 383)">H<tspan font-size="5" dy="1.5">2</tspan><tspan dy="-1.5">O</tspan></text>
<line x1="261.72" y1="383.2" x2="261.72" y2="385.3" stroke="#333" stroke-width="0.7"/>
<text x="278.48" y="383" font-size="8" transform="rotate(-90 278.48 383)">A.aeg</text>
<line x1="275.68" y1="383.2" x2="275.68" y2="385.3" stroke="#333" stroke-width="0.7"/>
<text x="292.44" y="383" font-size="8" transform="rotate(-90 292.44 383)">A.albo</text>
<line x1="289.64" y1="383.2" x2="289.64" y2="385.3" stroke="#333" stroke-width="0.7"/>
<text x="306.4" y="383" font-size="8" transform="rotate(-90 306.4 383)">H<tspan font-size="5" dy="1.5">2</tspan><tspan dy="-1.5">O</tspan></text>
<line x1="303.6" y1="383.2" x2="303.6" y2="385.3" stroke="#333" stroke-width="0.7"/>
<text x="320.36" y="383" font-size="8" transform="rotate(-90 320.36 383)">A.aeg</text>
<line x1="317.56" y1="383.2" x2="317.56" y2="385.3" stroke="#333" stroke-width="0.7"/>
<text x="334.32" y="383" font-size="8" transform="rotate(-90 334.32 383)">A.albo</text>
<line x1="331.52" y1="383.2" x2="331.52" y2="385.3" stroke="#333" stroke-width="0.7"/>
<text x="171" y="335.7" font-size="7.6" text-anchor="middle">6 months</text>
<text x="277" y="334.5" font-size="7.6" text-anchor="middle">9 months</text>
<line x1="132.4" y1="340.4" x2="209.6" y2="340.4" stroke="#1a1a1a" stroke-width="1.3"/>
<line x1="219" y1="340" x2="336" y2="340" stroke="#1a1a1a" stroke-width="1.3"/>
<line x1="212.86" y1="328" x2="212.86" y2="385.3" stroke="#888" stroke-width="0.8"/>
<text x="150.4" y="352.8" font-size="8" text-anchor="middle">MZ twin</text>
<text x="192.3" y="352.8" font-size="8" text-anchor="middle">patient</text>
<text x="233.4" y="352.8" font-size="8" text-anchor="middle" textLength="23.8" lengthAdjust="spacingAndGlyphs">URHC1</text>
<text x="276.2" y="352.8" font-size="8" text-anchor="middle" textLength="23.8" lengthAdjust="spacingAndGlyphs">URHC2</text>
<text x="317.7" y="352.8" font-size="8" text-anchor="middle">patient</text>
<line x1="170.98" y1="345" x2="170.98" y2="385.3" stroke="#c4c4c4" stroke-width="0.8"/>
<line x1="254.74" y1="345" x2="254.74" y2="385.3" stroke="#c4c4c4" stroke-width="0.8"/>
<line x1="296.62" y1="345" x2="296.62" y2="385.3" stroke="#c4c4c4" stroke-width="0.8"/>
<text x="25.9" y="414.3" font-size="7.6" text-anchor="middle" transform="rotate(-90 25.9 414.3)">HLH</text>
<path d="M38.9 386.3 C36.6 388 35.8 392 35.8 398 L35.8 408.5 C35.8 412 34.2 413.5 31.3 414 C34.2 414.5 35.8 416 35.8 419.5 L35.8 430 C35.8 436 36.6 440 38.9 441.9" fill="none" stroke="#444" stroke-width="0.9"/>
<text x="42.5" y="409.9" font-size="8.2">Memory</text>
<text x="42.5" y="420.4" font-size="8.2">NK cell</text>
<text x="42.5" y="429.9" font-size="8.2">signature</text>
<text x="28.5" y="450.9" font-size="8.2">Pro-inflammatory</text>
<text x="28.5" y="460.9" font-size="8.2">cytokines</text>
<text x="28.5" y="478.9" font-size="8.2">Pro-inflammatory</text>
<text x="28.5" y="488.9" font-size="8.2">chemokines</text>
<text x="28.5" y="499.9" font-size="8.2">Myeloid</text>
<text x="28.5" y="517.9" font-size="8.2">Th2</text>
<line x1="40" y1="432.2" x2="128.5" y2="432.2" stroke="#c4c4c4" stroke-width="0.8"/>
<line x1="20" y1="467" x2="128.5" y2="467" stroke="#c4c4c4" stroke-width="0.8"/>
<line x1="20" y1="490.5" x2="128.5" y2="490.5" stroke="#c4c4c4" stroke-width="0.8"/>
<line x1="20" y1="502" x2="128.5" y2="502" stroke="#c4c4c4" stroke-width="0.8"/>
<text x="8" y="554.5" font-size="13.4" fill="#000" font-weight="bold">I</text>
<rect x="120.8" y="566.6" width="57.3" height="13.7" fill="url(#cb)" stroke="#555" stroke-width="0.6"/>
<line x1="120.8" y1="580.3" x2="120.8" y2="579.1" stroke="#555" stroke-width="0.6"/>
<text x="124.1" y="585.3" font-size="6.8" text-anchor="end" transform="rotate(-45 124.1 585.3)">0</text>
<line x1="135.12" y1="580.3" x2="135.12" y2="579.1" stroke="#555" stroke-width="0.6"/>
<text x="138.43" y="585.3" font-size="6.8" text-anchor="end" transform="rotate(-45 138.43 585.3)">0.25</text>
<line x1="149.45" y1="580.3" x2="149.45" y2="579.1" stroke="#555" stroke-width="0.6"/>
<text x="152.75" y="585.3" font-size="6.8" text-anchor="end" transform="rotate(-45 152.75 585.3)">0.50</text>
<line x1="163.77" y1="580.3" x2="163.77" y2="579.1" stroke="#555" stroke-width="0.6"/>
<text x="167.07" y="585.3" font-size="6.8" text-anchor="end" transform="rotate(-45 167.07 585.3)">0.75</text>
<line x1="178.1" y1="580.3" x2="178.1" y2="579.1" stroke="#555" stroke-width="0.6"/>
<text x="181.4" y="585.3" font-size="6.8" text-anchor="end" transform="rotate(-45 181.4 585.3)">1.00</text>
<text x="149.45" y="564.8" font-size="6.8" text-anchor="middle">relative to maximum</text>
<rect x="182.6" y="618.9" width="111.69" height="148.8" fill="#392783"/>
<rect x="195.01" y="618.9" width="13.01" height="13" fill="#6060b0"/>
<rect x="244.65" y="618.9" width="13.01" height="13" fill="#e8150f"/>
<rect x="281.88" y="618.9" width="12.41" height="13" fill="#fbfafd"/>
<rect x="182.6" y="631.3" width="13.01" height="13" fill="#ccccea"/>
<rect x="195.01" y="631.3" width="13.01" height="13" fill="#e8150f"/>
<rect x="207.42" y="631.3" width="13.01" height="13" fill="#9494c8"/>
<rect x="219.83" y="631.3" width="13.01" height="13" fill="#bcbce0"/>
<rect x="232.24" y="631.3" width="13.01" height="13" fill="#f8e2de"/>
<rect x="244.65" y="631.3" width="13.01" height="13" fill="#e8150f"/>
<rect x="257.06" y="631.3" width="13.01" height="13" fill="#6e6cb6"/>
<rect x="269.47" y="631.3" width="13.01" height="13" fill="#6e6cb6"/>
<rect x="281.88" y="631.3" width="12.41" height="13" fill="#e2e2f2"/>
<rect x="195.01" y="643.7" width="13.01" height="13" fill="#f4a098"/>
<rect x="207.42" y="643.7" width="13.01" height="13" fill="#d6d6ee"/>
<rect x="219.83" y="643.7" width="13.01" height="13" fill="#4c40a0"/>
<rect x="232.24" y="643.7" width="13.01" height="13" fill="#8c8cc8"/>
<rect x="244.65" y="643.7" width="13.01" height="13" fill="#e8150f"/>
<rect x="257.06" y="643.7" width="13.01" height="13" fill="#fbe4dc"/>
<rect x="281.88" y="643.7" width="12.41" height="13" fill="#e82418"/>
<rect x="195.01" y="656.1" width="13.01" height="13" fill="#5c5aac"/>
<rect x="244.65" y="656.1" width="13.01" height="13" fill="#e8150f"/>
<rect x="257.06" y="656.1" width="13.01" height="13" fill="#5650a8"/>
<rect x="281.88" y="656.1" width="12.41" height="13" fill="#6a6cb8"/>
<rect x="195.01" y="668.5" width="13.01" height="13" fill="#f8ccc4"/>
<rect x="232.24" y="668.5" width="13.01" height="13" fill="#fadad2"/>
<rect x="244.65" y="668.5" width="13.01" height="13" fill="#e8150f"/>
<rect x="257.06" y="668.5" width="13.01" height="13" fill="#7c7cc0"/>
<rect x="281.88" y="668.5" width="12.41" height="13" fill="#e82418"/>
<rect x="182.6" y="680.9" width="13.01" height="13" fill="#a2a2d4"/>
<rect x="195.01" y="680.9" width="13.01" height="13" fill="#e8150f"/>
<rect x="207.42" y="680.9" width="13.01" height="13" fill="#ef6e60"/>
<rect x="219.83" y="680.9" width="13.01" height="13" fill="#e0e2f4"/>
<rect x="232.24" y="680.9" width="13.01" height="13" fill="#ec5444"/>
<rect x="244.65" y="680.9" width="13.01" height="13" fill="#f6f2f6"/>
<rect x="257.06" y="680.9" width="13.01" height="13" fill="#7e7ec2"/>
<rect x="269.47" y="680.9" width="13.01" height="13" fill="#d8d8ee"/>
<rect x="281.88" y="680.9" width="12.41" height="13" fill="#b4b6dc"/>
<rect x="195.01" y="693.3" width="13.01" height="13" fill="#f6b0a8"/>
<rect x="232.24" y="693.3" width="13.01" height="13" fill="#5e5cac"/>
<rect x="244.65" y="693.3" width="13.01" height="13" fill="#e8150f"/>
<rect x="257.06" y="693.3" width="13.01" height="13" fill="#5048a4"/>
<rect x="281.88" y="693.3" width="12.41" height="13" fill="#f8d8d0"/>
<rect x="195.01" y="705.7" width="13.01" height="13" fill="#e82418"/>
<rect x="182.6" y="718.1" width="13.01" height="13" fill="#f0eef8"/>
<rect x="195.01" y="718.1" width="13.01" height="13" fill="#e8382c"/>
<rect x="207.42" y="718.1" width="13.01" height="13" fill="#e81c14"/>
<rect x="219.83" y="718.1" width="13.01" height="13" fill="#fcf4f4"/>
<rect x="232.24" y="718.1" width="13.01" height="13" fill="#fcf2f0"/>
<rect x="244.65" y="718.1" width="13.01" height="13" fill="#a2a4d4"/>
<rect x="257.06" y="718.1" width="13.01" height="13" fill="#f06454"/>
<rect x="269.47" y="718.1" width="13.01" height="13" fill="#7676bc"/>
<rect x="281.88" y="718.1" width="12.41" height="13" fill="#f29c90"/>
<rect x="195.01" y="730.5" width="13.01" height="13" fill="#fdfafa"/>
<rect x="244.65" y="730.5" width="13.01" height="13" fill="#e8150f"/>
<rect x="195.01" y="742.9" width="13.01" height="13" fill="#f4b6b2"/>
<rect x="207.42" y="742.9" width="13.01" height="13" fill="#a0a0d2"/>
<rect x="232.24" y="742.9" width="13.01" height="13" fill="#a2a2d4"/>
<rect x="244.65" y="742.9" width="13.01" height="13" fill="#e8150f"/>
<rect x="257.06" y="742.9" width="13.01" height="13" fill="#fce8e0"/>
<rect x="281.88" y="742.9" width="12.41" height="13" fill="#e8150f"/>
<rect x="195.01" y="755.3" width="13.01" height="12.4" fill="#fcecea"/>
<rect x="207.42" y="755.3" width="13.01" height="12.4" fill="#6260ae"/>
<rect x="232.24" y="755.3" width="13.01" height="12.4" fill="#d4d4ee"/>
<rect x="244.65" y="755.3" width="13.01" height="12.4" fill="#e8150f"/>
<rect x="257.06" y="755.3" width="13.01" height="12.4" fill="#5c58ac"/>
<rect x="281.88" y="755.3" width="12.41" height="12.4" fill="#e8150f"/>
<line x1="182.6" y1="643.7" x2="294.29" y2="643.7" stroke="#7264c2" stroke-width="1.3"/>
<line x1="182.6" y1="668.5" x2="294.29" y2="668.5" stroke="#7264c2" stroke-width="1.3"/>
<line x1="182.6" y1="705.7" x2="294.29" y2="705.7" stroke="#7264c2" stroke-width="1.3"/>
<line x1="182.6" y1="718.1" x2="294.29" y2="718.1" stroke="#7264c2" stroke-width="1.3"/>
<line x1="182.6" y1="742.9" x2="294.29" y2="742.9" stroke="#7264c2" stroke-width="1.3"/>
<text x="175" y="627.7" font-size="7.5" text-anchor="end">IFNg</text>
<line x1="179.6" y1="625.1" x2="182.6" y2="625.1" stroke="#333" stroke-width="0.7"/>
<text x="175" y="640.1" font-size="7.5" text-anchor="end">CXCL10</text>
<line x1="179.6" y1="637.5" x2="182.6" y2="637.5" stroke="#333" stroke-width="0.7"/>
<text x="175" y="652.5" font-size="7.5" text-anchor="end">IL-2</text>
<line x1="179.6" y1="649.9" x2="182.6" y2="649.9" stroke="#333" stroke-width="0.7"/>
<text x="175" y="664.9" font-size="7.5" text-anchor="end">IL-12p70</text>
<line x1="179.6" y1="662.3" x2="182.6" y2="662.3" stroke="#333" stroke-width="0.7"/>
<text x="175" y="677.3" font-size="7.5" text-anchor="end">IL-6</text>
<line x1="179.6" y1="674.7" x2="182.6" y2="674.7" stroke="#333" stroke-width="0.7"/>
<text x="175" y="689.7" font-size="7.5" text-anchor="end">IL-8</text>
<line x1="179.6" y1="687.1" x2="182.6" y2="687.1" stroke="#333" stroke-width="0.7"/>
<text x="175" y="702.1" font-size="7.5" text-anchor="end">TNFa</text>
<line x1="179.6" y1="699.5" x2="182.6" y2="699.5" stroke="#333" stroke-width="0.7"/>
<text x="175" y="714.5" font-size="7.5" text-anchor="end">CCL2</text>
<line x1="179.6" y1="711.9" x2="182.6" y2="711.9" stroke="#333" stroke-width="0.7"/>
<text x="175" y="726.9" font-size="7.5" text-anchor="end">G-CSF</text>
<line x1="179.6" y1="724.3" x2="182.6" y2="724.3" stroke="#333" stroke-width="0.7"/>
<text x="175" y="739.3" font-size="7.5" text-anchor="end">GM-CSF</text>
<line x1="179.6" y1="736.7" x2="182.6" y2="736.7" stroke="#333" stroke-width="0.7"/>
<text x="175" y="751.7" font-size="7.5" text-anchor="end">IL-13</text>
<line x1="179.6" y1="749.1" x2="182.6" y2="749.1" stroke="#333" stroke-width="0.7"/>
<text x="175" y="764.1" font-size="7.5" text-anchor="end">IL-10</text>
<line x1="179.6" y1="761.5" x2="182.6" y2="761.5" stroke="#333" stroke-width="0.7"/>
<text x="191.61" y="614.6" font-size="7.8" transform="rotate(-90 191.61 614.6)">H<tspan font-size="5" dy="1.5">2</tspan><tspan dy="-1.5">O</tspan></text>
<line x1="188.81" y1="614.6" x2="188.81" y2="618.9" stroke="#333" stroke-width="0.7"/>
<text x="204.02" y="614.6" font-size="7.8" transform="rotate(-90 204.02 614.6)" textLength="22.7" lengthAdjust="spacingAndGlyphs">DMSO</text>
<line x1="201.22" y1="614.6" x2="201.22" y2="618.9" stroke="#333" stroke-width="0.7"/>
<text x="216.43" y="614.6" font-size="7.8" transform="rotate(-90 216.43 614.6)" textLength="30" lengthAdjust="spacingAndGlyphs">ML-120B</text>
<line x1="213.62" y1="614.6" x2="213.62" y2="618.9" stroke="#333" stroke-width="0.7"/>
<text x="228.84" y="614.6" font-size="7.8" transform="rotate(-90 228.84 614.6)" textLength="24.6" lengthAdjust="spacingAndGlyphs">S3I-201</text>
<line x1="226.03" y1="614.6" x2="226.03" y2="618.9" stroke="#333" stroke-width="0.7"/>
<text x="241.25" y="614.6" font-size="7.8" transform="rotate(-90 241.25 614.6)" textLength="31.6" lengthAdjust="spacingAndGlyphs">STAT5inh</text>
<line x1="238.44" y1="614.6" x2="238.44" y2="618.9" stroke="#333" stroke-width="0.7"/>
<text x="253.66" y="614.6" font-size="7.8" transform="rotate(-90 253.66 614.6)" textLength="22.7" lengthAdjust="spacingAndGlyphs">DMSO</text>
<line x1="250.85" y1="614.6" x2="250.85" y2="618.9" stroke="#333" stroke-width="0.7"/>
<text x="266.06" y="614.6" font-size="7.8" transform="rotate(-90 266.06 614.6)" textLength="30" lengthAdjust="spacingAndGlyphs">ML-120B</text>
<line x1="263.26" y1="614.6" x2="263.26" y2="618.9" stroke="#333" stroke-width="0.7"/>
<text x="278.48" y="614.6" font-size="7.8" transform="rotate(-90 278.48 614.6)" textLength="24.6" lengthAdjust="spacingAndGlyphs">S3I-201</text>
<line x1="275.68" y1="614.6" x2="275.68" y2="618.9" stroke="#333" stroke-width="0.7"/>
<text x="290.88" y="614.6" font-size="7.8" transform="rotate(-90 290.88 614.6)" textLength="31.6" lengthAdjust="spacingAndGlyphs">STAT5inh</text>
<line x1="288.08" y1="614.6" x2="288.08" y2="618.9" stroke="#333" stroke-width="0.7"/>
<text x="220" y="575.2" font-size="7.6" text-anchor="middle" font-style="italic">A.aeg</text>
<text x="268" y="575.2" font-size="7.6" text-anchor="middle" font-style="italic">A.albo</text>
<line x1="195.01" y1="569" x2="195.01" y2="618.9" stroke="#c4c4c4" stroke-width="0.8"/>
<line x1="244.65" y1="569" x2="244.65" y2="618.9" stroke="#888" stroke-width="0.7" stroke-dasharray="1 1"/>
<text x="63" y="632.4" font-size="8.2">IFN&#947; signature</text>
<text x="63" y="653.9" font-size="8.2">Memory-like NK</text>
<text x="63" y="663.5" font-size="8.2">cell signature</text>
<text x="63" y="690.9" font-size="8.2">Pro-inflammatory</text>
<text x="63" y="715.4" font-size="8.2">Myeloid chemokine</text>
<text x="63" y="728.3" font-size="8.2">Myeloid growth</text>
<text x="63" y="738.3" font-size="8.2">factors</text>
<text x="63" y="754.4" font-size="8.2">Th2</text>
<text x="63" y="764.4" font-size="8.2">/immunoregulatory</text>
<line x1="60.4" y1="643.7" x2="182" y2="643.7" stroke="#c4c4c4" stroke-width="0.8"/>
<line x1="60.4" y1="668.5" x2="182" y2="668.5" stroke="#c4c4c4" stroke-width="0.8"/>
<line x1="60.4" y1="705.7" x2="182" y2="705.7" stroke="#c4c4c4" stroke-width="0.8"/>
<line x1="60.4" y1="718.1" x2="182" y2="718.1" stroke="#c4c4c4" stroke-width="0.8"/>
<line x1="60.4" y1="742.9" x2="182" y2="742.9" stroke="#c4c4c4" stroke-width="0.8"/>
<rect x="0" y="0" width="520" height="1" fill="#464646"/><rect x="0" y="0" width="1.2" height="781" fill="#4a4a4a"/><rect x="518.8" y="0" width="1.2" height="781" fill="#3c3c3c"/><rect x="0" y="779.3" width="520" height="1.7" fill="#3a3a3a"/>
</svg>
</body></html>
